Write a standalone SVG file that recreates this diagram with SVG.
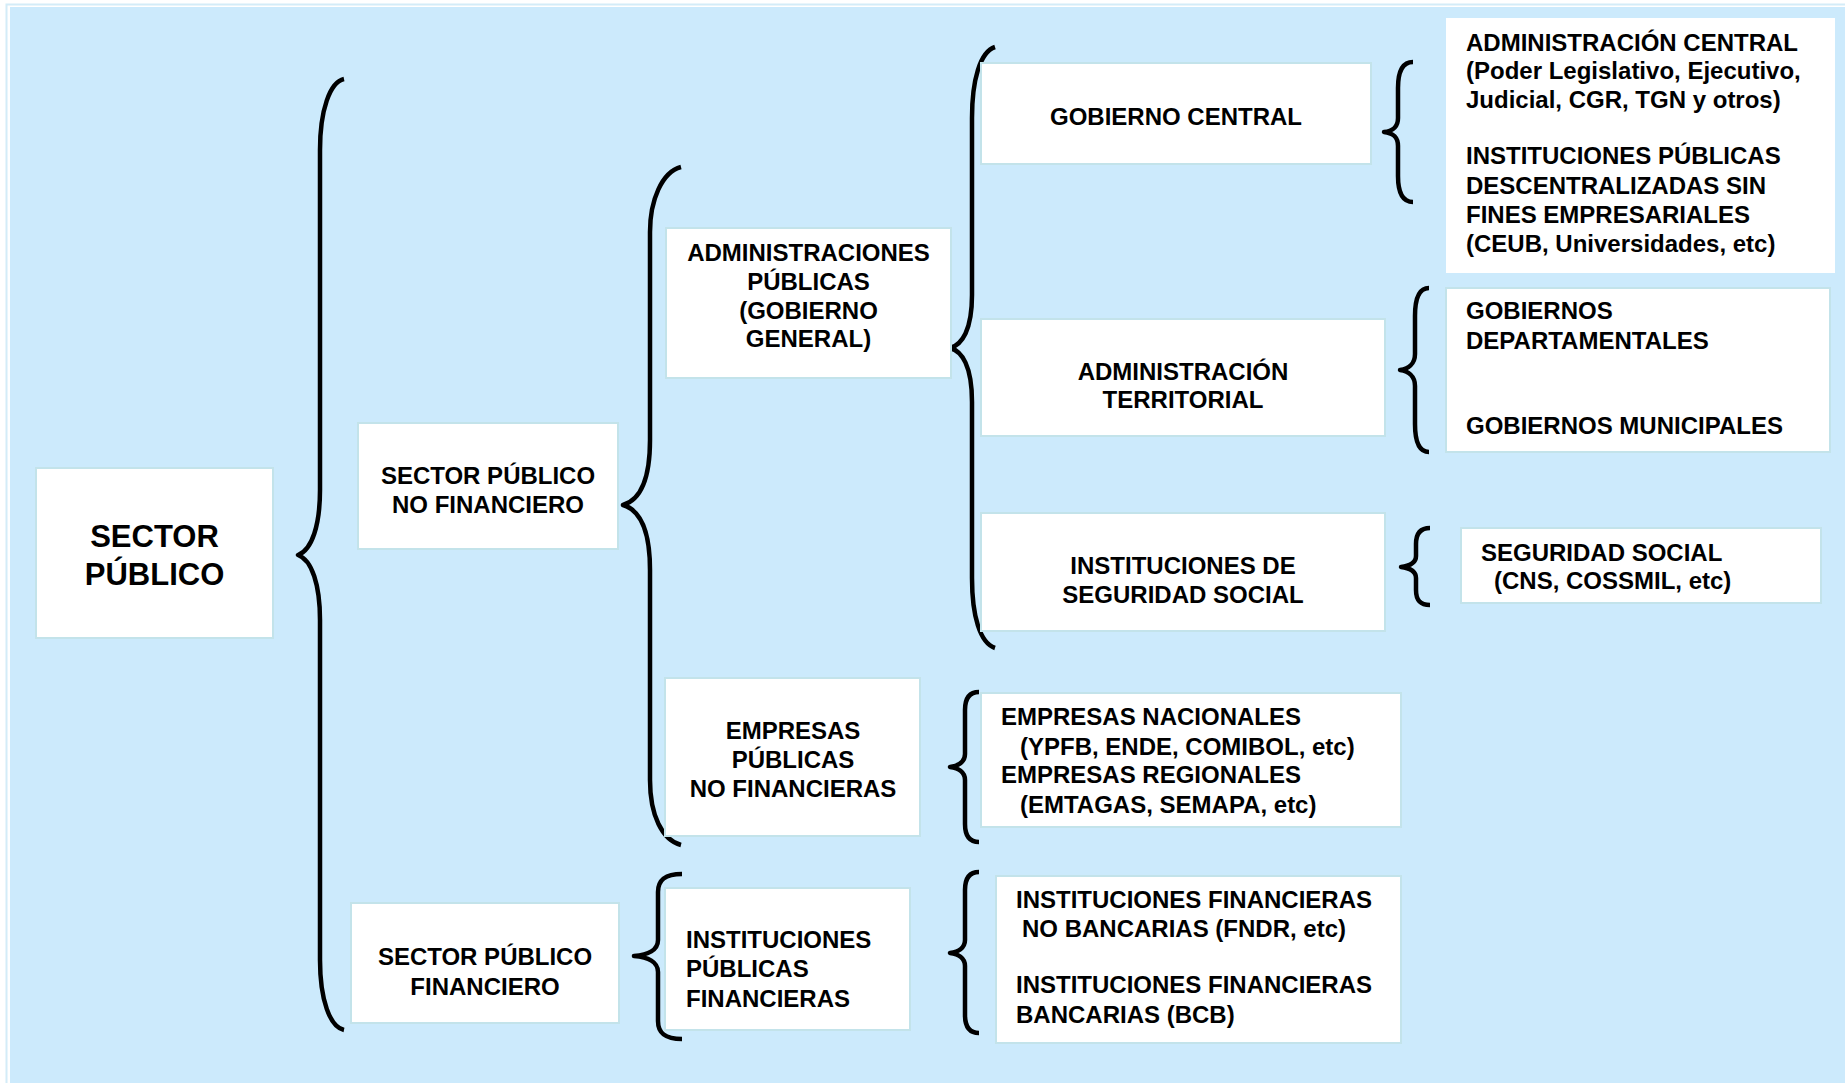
<svg xmlns="http://www.w3.org/2000/svg" width="1845" height="1083" viewBox="0 0 1845 1083">
<style>
.box{fill:#ffffff;stroke:#c3e3ea;stroke-width:2}
.t{font-family:"Liberation Sans",Arial,sans-serif;font-weight:bold;font-size:24px;fill:#000}
.c{text-anchor:middle}
.br{fill:none;stroke:#000;stroke-width:4.5;stroke-linejoin:round}
</style>
<rect x="0" y="0" width="1845" height="1083" fill="#ffffff"/>
<rect x="6.5" y="4.5" width="1845" height="1083" fill="#ffffff" stroke="#d3ecf8" stroke-width="2"/>
<rect x="10" y="7" width="1835" height="1076" fill="#cceafc"/>

<g id="connectors">
<path class="br" d="M344,79 C330,82 320,110 320,150 L320,490 C320,525 312,550 298,555 C312,560 320,585 320,620 L320,960 C320,1000 330,1027 344,1030"/>
<path class="br" d="M681,167 C662,172 650,200 650,232 L650,440 C650,480 640,500 623,505 C640,510 650,530 650,570 L650,780 C650,815 662,840 681,845"/>
<path class="br" d="M682,874 C665,874 658,880 658,892 L658,940 C658,950 648,955 634,956 C648,957 658,962 658,972 L658,1021 C658,1033 665,1039 682,1039"/>
<path class="br" d="M995,47 C980,52 972,80 972,118 L972,295 C972,330 962,345 950,348 C962,351 972,366 972,402 L972,578 C972,616 980,643 995,648"/>
<path class="br" d="M1413,62 C1403,62 1398,70 1398,88 L1398,118 C1398,128 1392,131 1384,132 C1392,133 1398,136 1398,146 L1398,176 C1398,194 1403,202 1413,202"/>
<path class="br" d="M1429,288 C1419,288 1415,298 1415,316 L1415,354 C1415,364 1408,369 1400,370 C1408,371 1415,376 1415,386 L1415,424 C1415,442 1419,452 1429,452"/>
<path class="br" d="M1430,528 C1420,528 1416,534 1416,544 L1416,556 C1416,563 1409,566 1401,567 C1409,568 1416,571 1416,578 L1416,590 C1416,600 1420,605 1430,605"/>
<path class="br" d="M979,692 C970,692 965,698 965,710 L965,754 C965,762 958,766 950,767 C958,768 965,772 965,780 L965,824 C965,836 970,842 979,842"/>
<path class="br" d="M979,872 C970,872 965,878 965,890 L965,940 C965,948 958,952 950,953 C958,954 965,958 965,966 L965,1015 C965,1027 970,1033 979,1033"/>
</g>

<g id="sector-publico">
<rect class="box" x="36" y="468" width="237" height="170"/>
<text class="t c" x="154.5" y="547" style="font-size:31px">SECTOR</text>
<text class="t c" x="154.5" y="585" style="font-size:31px">PÚBLICO</text>
</g>

<g id="spnf">
<rect class="box" x="358" y="423" width="260" height="126"/>
<text class="t c" x="488" y="484">SECTOR PÚBLICO</text>
<text class="t c" x="488" y="513">NO FINANCIERO</text>
</g>

<g id="spf">
<rect class="box" x="351" y="903" width="268" height="120"/>
<text class="t c" x="485" y="965">SECTOR PÚBLICO</text>
<text class="t c" x="485" y="995">FINANCIERO</text>
</g>

<g id="admin-publicas">
<rect class="box" x="666" y="228" width="285" height="150"/>
<text class="t c" x="808.5" y="261">ADMINISTRACIONES</text>
<text class="t c" x="808.5" y="290">PÚBLICAS</text>
<text class="t c" x="808.5" y="319">(GOBIERNO</text>
<text class="t c" x="808.5" y="347">GENERAL)</text>
</g>

<g id="gobierno-central">
<rect class="box" x="981" y="63" width="390" height="101"/>
<text class="t c" x="1176" y="125">GOBIERNO CENTRAL</text>
</g>

<g id="admin-territorial">
<rect class="box" x="981" y="319" width="404" height="117"/>
<text class="t c" x="1183" y="380">ADMINISTRACIÓN</text>
<text class="t c" x="1183" y="408">TERRITORIAL</text>
</g>

<g id="inst-seguridad-social">
<rect class="box" x="981" y="513" width="404" height="118"/>
<text class="t c" x="1183" y="574">INSTITUCIONES DE</text>
<text class="t c" x="1183" y="603">SEGURIDAD SOCIAL</text>
</g>

<g id="admin-central">
<rect x="1446" y="18" width="389" height="255" fill="#ffffff"/>
<text class="t" x="1466" y="51">ADMINISTRACIÓN CENTRAL</text>
<text class="t" x="1466" y="79">(Poder Legislativo, Ejecutivo,</text>
<text class="t" x="1466" y="108">Judicial, CGR, TGN y otros)</text>
<text class="t" x="1466" y="164">INSTITUCIONES PÚBLICAS</text>
<text class="t" x="1466" y="194">DESCENTRALIZADAS SIN</text>
<text class="t" x="1466" y="223">FINES EMPRESARIALES</text>
<text class="t" x="1466" y="252">(CEUB, Universidades, etc)</text>
</g>

<g id="gobiernos">
<rect class="box" x="1446" y="288" width="384" height="164"/>
<text class="t" x="1466" y="319">GOBIERNOS</text>
<text class="t" x="1466" y="349">DEPARTAMENTALES</text>
<text class="t" x="1466" y="434">GOBIERNOS MUNICIPALES</text>
</g>

<g id="seguridad-social">
<rect class="box" x="1461" y="528" width="360" height="75"/>
<text class="t" x="1481" y="561">SEGURIDAD SOCIAL</text>
<text class="t" x="1494" y="589">(CNS, COSSMIL, etc)</text>
</g>

<g id="empresas-publicas">
<rect class="box" x="665" y="678" width="255" height="158"/>
<text class="t c" x="793" y="739">EMPRESAS</text>
<text class="t c" x="793" y="768">PÚBLICAS</text>
<text class="t c" x="793" y="797">NO FINANCIERAS</text>
</g>

<g id="empresas">
<rect class="box" x="981" y="693" width="420" height="134"/>
<text class="t" x="1001" y="725">EMPRESAS NACIONALES</text>
<text class="t" x="1020" y="755">(YPFB, ENDE, COMIBOL, etc)</text>
<text class="t" x="1001" y="783">EMPRESAS REGIONALES</text>
<text class="t" x="1020" y="813">(EMTAGAS, SEMAPA, etc)</text>
</g>

<g id="inst-publicas-financieras">
<rect class="box" x="665" y="888" width="245" height="142"/>
<text class="t" x="686" y="948">INSTITUCIONES</text>
<text class="t" x="686" y="977">PÚBLICAS</text>
<text class="t" x="686" y="1007">FINANCIERAS</text>
</g>

<g id="inst-financieras">
<rect class="box" x="996" y="876" width="405" height="167"/>
<text class="t" x="1016" y="908">INSTITUCIONES FINANCIERAS</text>
<text class="t" x="1022" y="937">NO BANCARIAS (FNDR, etc)</text>
<text class="t" x="1016" y="993">INSTITUCIONES FINANCIERAS</text>
<text class="t" x="1016" y="1023">BANCARIAS (BCB)</text>
</g>
</svg>
